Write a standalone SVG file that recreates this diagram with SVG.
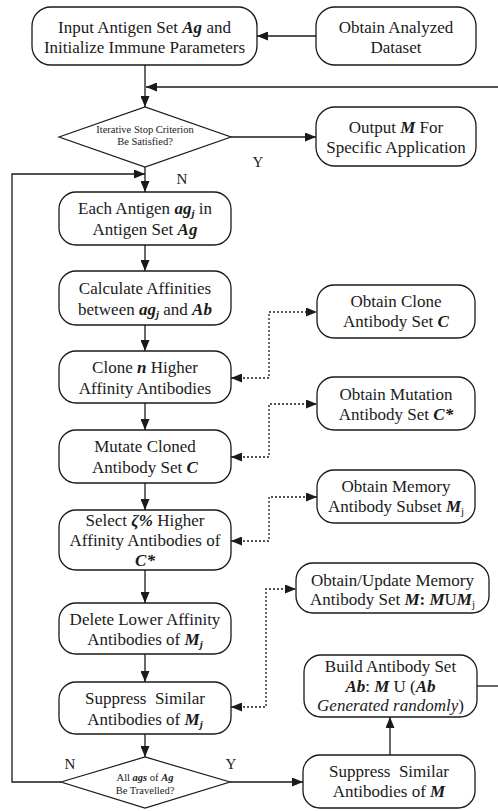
<svg xmlns="http://www.w3.org/2000/svg" width="498" height="811" viewBox="0 0 498 811" font-family="Liberation Serif, Times New Roman, serif">
<defs>
<marker id="ah" markerUnits="userSpaceOnUse" markerWidth="11" markerHeight="9" refX="11" refY="4.5" orient="auto-start-reverse" viewBox="0 0 11 9">
<path d="M0,0 L11,4.5 L0,9 z" fill="#1a1a1a"/>
</marker>
</defs>
<style>
rect.n{fill:#fff;stroke:#1a1a1a;stroke-width:1.3}
polygon.d{fill:#fff;stroke:#1a1a1a;stroke-width:1.2}
text{font-size:17px;fill:#1a1a1a;text-anchor:middle}
text.s{font-size:10.5px}
text.l{font-size:15px}
.bi{font-weight:bold;font-style:italic}
.it{font-style:italic}
.b{font-weight:bold}
.c{fill:none;stroke:#1a1a1a;stroke-width:1.3}
.a{marker-end:url(#ah)}
.dot{fill:none;stroke:#1a1a1a;stroke-width:1.3;stroke-dasharray:2,2;marker-start:url(#ah);marker-end:url(#ah)}
</style>
<rect width="498" height="811" fill="#fff"/>
<g id="connectors">
<path class="c a" d="M316,36 H257"/>
<path class="c a" d="M145,65 V107"/>
<path class="c a" d="M498,87 H146"/>
<path class="c a" d="M231,137 H316"/>
<path class="c a" d="M145,167 V192"/>
<path class="c a" d="M61,782 H12 V174 H145"/>
<path class="c a" d="M145,245 V271"/>
<path class="c a" d="M145,325 V351"/>
<path class="c a" d="M145,403 V430"/>
<path class="c a" d="M145,483 V510"/>
<path class="c a" d="M145,570 V603"/>
<path class="c a" d="M145,654 V682"/>
<path class="c a" d="M145,734 V757"/>
<path class="c a" d="M230,782 H303"/>
<path class="c a" d="M390,755 V717"/>
<path class="c" d="M477,686 H498"/>
<path class="dot" d="M231,378 H269 V312 H317"/>
<path class="dot" d="M231,457 H269 V404 H317"/>
<path class="dot" d="M231,541 H269 V497 H317"/>
<path class="dot" d="M231,707 H266 V589 H296"/>
<text class="l" x="258" y="167">Y</text>
<text class="l" x="182" y="184">N</text>
<text class="l" x="70" y="769">N</text>
<text class="l" x="231" y="769">Y</text>
</g>
<g id="input">
<rect class="n" x="32" y="7" width="225" height="58" rx="19"/>
<text x="144.5" y="33">Input Antigen Set <tspan class="bi">Ag</tspan> and</text>
<text x="144.5" y="53">Initialize Immune Parameters</text>
</g>
<g id="dataset">
<rect class="n" x="316" y="7" width="160" height="58" rx="19"/>
<text x="396" y="33">Obtain Analyzed</text>
<text x="396" y="53">Dataset</text>
</g>
<g id="stop">
<polygon class="d" points="59,137 145,107 231,137 145,167"/>
<text class="s" x="145" y="133">Iterative Stop Criterion</text>
<text class="s" x="145" y="145">Be Satisfied?</text>
</g>
<g id="output">
<rect class="n" x="316" y="107" width="160" height="59" rx="19"/>
<text x="396" y="133">Output <tspan class="bi">M</tspan> For</text>
<text x="396" y="153">Specific Application</text>
</g>
<g id="each">
<rect class="n" x="59" y="192" width="172" height="53" rx="17"/>
<text x="145" y="214">Each Antigen <tspan class="bi">ag</tspan><tspan class="bi" style="font-size:11px" dy="3">j</tspan><tspan dy="-3"> in</tspan></text>
<text x="145" y="235">Antigen Set <tspan class="bi">Ag</tspan></text>
</g>
<g id="calc">
<rect class="n" x="59" y="271" width="172" height="54" rx="17"/>
<text x="145" y="293.5">Calculate Affinities</text>
<text x="145" y="314.5">between <tspan class="bi">ag</tspan><tspan class="bi" style="font-size:11px" dy="3">j</tspan><tspan dy="-3"> and </tspan><tspan class="bi">Ab</tspan></text>
</g>
<g id="clone">
<rect class="n" x="59" y="351" width="172" height="52" rx="17"/>
<text x="145" y="372.5">Clone <tspan class="bi">n</tspan> Higher</text>
<text x="145" y="393.5">Affinity Antibodies</text>
</g>
<g id="mutate">
<rect class="n" x="59" y="430" width="172" height="53" rx="17"/>
<text x="145" y="452">Mutate Cloned</text>
<text x="145" y="473">Antibody Set <tspan class="bi">C</tspan></text>
</g>
<g id="select">
<rect class="n" x="59" y="510" width="172" height="60" rx="17"/>
<text x="145" y="526">Select <tspan class="bi">ζ%</tspan> Higher</text>
<text x="145" y="546">Affinity Antibodies of</text>
<text x="145" y="566"><tspan class="bi">C*</tspan></text>
</g>
<g id="delete">
<rect class="n" x="59" y="603" width="172" height="51" rx="17"/>
<text x="145" y="625">Delete Lower Affinity</text>
<text x="145" y="645">Antibodies of <tspan class="bi">M</tspan><tspan class="bi" style="font-size:11px" dy="3">j</tspan></text>
</g>
<g id="suppressMj">
<rect class="n" x="59" y="682" width="172" height="52" rx="17"/>
<text x="145" y="704">Suppress&#160; Similar</text>
<text x="145" y="725">Antibodies of <tspan class="bi">M</tspan><tspan class="bi" style="font-size:11px" dy="3">j</tspan></text>
</g>
<g id="travelled">
<polygon class="d" points="61,782 145,757 230,782 145,808"/>
<text class="s" x="145" y="781">All <tspan class="bi">ags</tspan> of <tspan class="bi">Ag</tspan></text>
<text class="s" x="145" y="794">Be Travelled?</text>
</g>
<g id="cloneset">
<rect class="n" x="317" y="285" width="158" height="53" rx="17"/>
<text x="396" y="307">Obtain Clone</text>
<text x="396" y="327">Antibody Set <tspan class="bi">C</tspan></text>
</g>
<g id="mutset">
<rect class="n" x="317" y="377" width="158" height="53" rx="17"/>
<text x="396" y="400">Obtain Mutation</text>
<text x="396" y="420">Antibody Set <tspan class="bi">C*</tspan></text>
</g>
<g id="memsubset">
<rect class="n" x="317" y="470" width="158" height="53" rx="17"/>
<text x="396" y="492">Obtain Memory</text>
<text x="396" y="512">Antibody Subset <tspan class="bi">M</tspan><tspan style="font-size:11px" dy="3">j</tspan></text>
</g>
<g id="memset">
<rect class="n" x="296" y="563" width="193" height="50" rx="17"/>
<text x="392.5" y="586">Obtain/Update Memory</text>
<text x="392.5" y="605">Antibody Set <tspan class="bi">M</tspan><tspan class="b">:</tspan> <tspan class="bi">M</tspan>U<tspan class="bi">M</tspan><tspan style="font-size:11px" dy="3">j</tspan></text>
</g>
<g id="build">
<rect class="n" x="304" y="655" width="173" height="62" rx="17"/>
<text x="390.5" y="672">Build Antibody Set</text>
<text x="390.5" y="692"><tspan class="bi">Ab</tspan>: <tspan class="bi">M</tspan> U (<tspan class="bi">Ab</tspan></text>
<text x="390.5" y="711"><tspan class="it">Generated randomly</tspan>)</text>
</g>
<g id="suppressM">
<rect class="n" x="303" y="755" width="172" height="53" rx="17"/>
<text x="389" y="777">Suppress&#160; Similar</text>
<text x="389" y="797">Antibodies of <tspan class="bi">M</tspan></text>
</g>
</svg>
